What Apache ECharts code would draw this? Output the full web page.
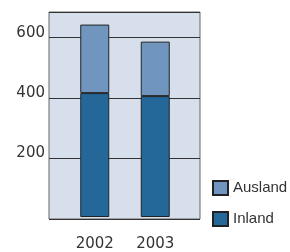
<!DOCTYPE html>
<html>
<head>
<meta charset="utf-8">
<script src="https://cdn.jsdelivr.net/npm/echarts@6/dist/echarts.min.js"></script>
<style>
  html, body { margin: 0; padding: 0; background: #fff; }
  #chart { width: 290px; height: 252px; }
</style>
</head>
<body>
<div id="chart"></div>
<script>
  var years = ['2002', '2003']
  var inland = [414, 404]
  var ausland = [229, 182]
  var yTicks = [0, 200, 400, 600]

  var chart = echarts.init(document.getElementById('chart'))
  var axisFont = { fontFamily: 'DejaVu Sans', fontSize: 15, color: '#333' }

  chart.setOption({
    animation: false,
    legend: {
      orient: 'vertical',
      left: 207,
      top: 175,
      itemWidth: 15,
      itemHeight: 14,
      itemGap: 15,
      icon: 'rect',
      data: ['Ausland', 'Inland'],
      textStyle: { fontFamily: 'Liberation Sans', fontSize: 15, color: '#333' }
    },
    grid: [
      // frame with background + gridlines
      { left: 49, top: 12, width: 151, height: 207, show: true,
        backgroundColor: '#d8dfec', borderColor: '#666', borderWidth: 1 },
      // bars, narrower band so the two columns sit closer together
      { left: 64.5, top: 12, width: 121, height: 207 }
    ],
    xAxis: [
      { gridIndex: 0, type: 'category', data: years, show: false },
      {
        gridIndex: 1,
        type: 'category',
        data: years,
        axisLine: { show: false },
        axisTick: { show: false },
        axisLabel: Object.assign({ margin: 20 }, axisFont)
      }
    ],
    yAxis: [
      {
        gridIndex: 0,
        type: 'value',
        min: yTicks[0],
        max: 685,
        interval: yTicks[1] - yTicks[0],
        axisLine: { show: false },
        axisTick: { show: false },
        splitLine: { lineStyle: { color: '#333', width: 1 } },
        axisLabel: Object.assign({
          margin: 4,
          verticalAlign: 'bottom',
          lineHeight: 10,
          showMinLabel: false,
          showMaxLabel: false
        }, axisFont)
      },
      { gridIndex: 1, type: 'value', min: yTicks[0], max: 685, show: false, splitLine: { show: false } }
    ],
    series: [
      {
        name: 'Inland',
        type: 'bar',
        xAxisIndex: 1,
        yAxisIndex: 1,
        stack: 'total',
        barWidth: 29,
        data: inland,
        itemStyle: { color: '#236899', borderColor: '#222', borderWidth: 1 }
      },
      {
        name: 'Ausland',
        type: 'bar',
        xAxisIndex: 1,
        yAxisIndex: 1,
        stack: 'total',
        barWidth: 29,
        data: ausland,
        itemStyle: { color: '#7096bf', borderColor: '#222', borderWidth: 1 }
      }
    ]
  })
</script>
</body>
</html>
